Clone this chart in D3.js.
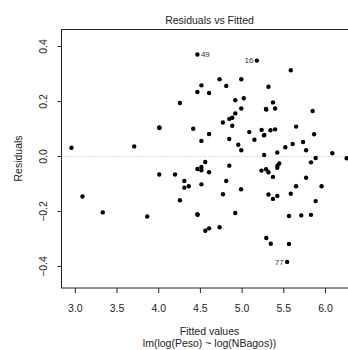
<!DOCTYPE html>
<html>
<head>
<meta charset="utf-8">
<title>Residuals vs Fitted</title>
<script src="https://cdn.jsdelivr.net/npm/d3@7"></script>
<style>
body { margin: 0; background: #fff; }
svg { display: block; font-family: "Liberation Sans", Arial, Helvetica, sans-serif; }
</style>
</head>
<body>
<script>
// fitted values and residuals
var fitted = [2.960, 3.092, 3.335, 3.712, 3.868, 4.012, 4.016, 4.012, 4.202, 4.260,
              4.260, 4.313, 4.313, 4.366, 4.420, 4.470, 4.470, 4.470, 4.469, 4.473,
              4.518, 4.518, 4.518, 4.518, 4.518, 4.564, 4.565, 4.610, 4.610, 4.610,
              4.610, 4.736, 4.736, 4.776, 4.776, 4.816, 4.816, 4.852, 4.852, 4.852,
              4.888, 4.888, 4.924, 4.924, 4.924, 4.960, 4.996, 4.996, 4.996, 4.994,
              5.026, 5.092, 5.154, 5.183, 5.240, 5.238, 5.268, 5.272, 5.270, 5.296,
              5.292, 5.294, 5.296, 5.322, 5.322, 5.322, 5.346, 5.350, 5.376, 5.376,
              5.376, 5.402, 5.402, 5.428, 5.430, 5.428, 5.428, 5.452, 5.524, 5.546,
              5.568, 5.568, 5.590, 5.590, 5.612, 5.654, 5.653, 5.716, 5.737, 5.774,
              5.773, 5.832, 5.832, 5.852, 5.870, 5.888, 5.888, 5.959, 6.088, 6.260];
var resid = [0.030, -0.147, -0.205, 0.035, -0.220, 0.104, 0.102, -0.067, -0.067, 0.193,
             -0.161, -0.091, -0.115, -0.110, 0.099, 0.369, 0.233, -0.047, -0.212, -0.214,
             0.257, 0.055, -0.040, -0.052, -0.103, -0.022, -0.272, 0.229, 0.080, -0.059,
             -0.263, 0.279, -0.259, 0.122, -0.139, 0.255, -0.091, 0.135, 0.062, -0.035,
             0.139, 0.110, 0.203, 0.155, -0.207, 0.041, 0.279, 0.173, 0.021, -0.121,
             0.210, 0.087, 0.059, 0.347, 0.095, -0.053, 0.075, 0.077, 0.004, 0.169,
             0.171, -0.048, -0.298, 0.252, -0.059, -0.140, 0.094, -0.319, 0.195, -0.076,
             -0.156, 0.173, 0.097, 0.013, -0.035, -0.043, -0.145, -0.027, 0.032, -0.385,
             -0.218, -0.320, 0.312, -0.137, 0.044, 0.107, -0.110, -0.216, 0.051, 0.021,
             -0.079, -0.023, -0.214, 0.164, 0.079, -0.007, -0.164, -0.110, 0.010, -0.008];
// labelled observations
var idIndex = [15, 53, 79];
var idNames = ["49", "16", "77"];

var xTicks = [3.0, 3.5, 4.0, 4.5, 5.0, 5.5, 6.0];
var yTicks = [-0.4, -0.2, 0.0, 0.2, 0.4];

var title = "Residuals vs Fitted";
var xLabel = "Fitted values";
var subLabel = "lm(log(Peso) ~ log(NBagos))";
var yLabel = "Residuals";

var W = 348, H = 350;
var pLeft = 61.5, pTop = 29, pBottom = 288, pRight = 357.5;
var fs = 10.5;

var svg = d3.select("body").append("svg")
    .attr("width", W)
    .attr("height", H);

svg.append("rect").attr("width", W).attr("height", H).attr("fill", "#fff");

var x = d3.scaleLinear().domain([2.84, 6.39]).range([pLeft, pRight]);
var y = d3.scaleLinear().domain([-0.48, 0.462]).range([pBottom, pTop]);
var fmt = d3.format(".1f");

// zero line
svg.append("line")
    .attr("x1", pLeft).attr("x2", pRight)
    .attr("y1", Math.round(y(0)) + 0.5).attr("y2", Math.round(y(0)) + 0.5)
    .attr("stroke", "#bebebe")
    .attr("stroke-dasharray", "1,2");

// points
svg.selectAll(".pt")
    .data(fitted)
    .enter().append("circle")
    .attr("class", "pt")
    .attr("cx", function(d) { return x(d); })
    .attr("cy", function(d, i) { return y(resid[i]); })
    .attr("r", 2.2)
    .attr("fill", "#000");

// id labels, R style: right of point if in left half, else left
var xmid = (x.domain()[0] + x.domain()[1]) / 2;
idIndex.forEach(function(k, j) {
    var onRight = fitted[k] < xmid;
    svg.append("text")
        .attr("x", x(fitted[k]) + (onRight ? 3.5 : -3.5))
        .attr("y", y(resid[k]))
        .attr("dy", "0.35em")
        .attr("text-anchor", onRight ? "start" : "end")
        .attr("font-size", 8)
        .attr("fill", "#333")
        .text(idNames[j]);
});

// frame
svg.append("rect")
    .attr("x", pLeft).attr("y", pTop + 0.5)
    .attr("width", pRight - pLeft).attr("height", pBottom - pTop - 0.5)
    .attr("fill", "none")
    .attr("stroke", "#222")
    .attr("stroke-width", 1);

// x axis
var xa = svg.append("g")
    .attr("transform", "translate(0," + pBottom + ")")
    .call(d3.axisBottom(x).tickValues(xTicks).tickSize(5).tickFormat(fmt));
xa.attr("font-family", null);
xa.select(".domain").remove();
xa.selectAll("line").attr("stroke", "#222");
xa.selectAll("text")
    .attr("y", 23.5).attr("dy", null)
    .attr("font-size", fs)
    .attr("fill", "#222");

// y axis, rotated labels
var ya = svg.append("g")
    .attr("transform", "translate(" + pLeft + ",0)")
    .call(d3.axisLeft(y).tickValues(yTicks).tickSize(4).tickFormat(fmt));
ya.attr("font-family", null);
ya.select(".domain").remove();
ya.selectAll("line").attr("stroke", "#222");
ya.selectAll("text")
    .attr("transform", "rotate(-90)")
    .attr("x", 0).attr("y", -14.7).attr("dy", null)
    .attr("text-anchor", "middle")
    .attr("font-size", fs)
    .attr("fill", "#222");

var cx = (pLeft + pRight) / 2;

svg.append("text")
    .attr("x", cx).attr("y", 24)
    .attr("text-anchor", "middle")
    .attr("font-size", fs)
    .attr("fill", "#222")
    .text(title);

svg.append("text")
    .attr("x", cx).attr("y", 335)
    .attr("text-anchor", "middle")
    .attr("font-size", fs)
    .attr("fill", "#222")
    .text(xLabel);

svg.append("text")
    .attr("x", cx).attr("y", 347)
    .attr("text-anchor", "middle")
    .attr("font-size", fs)
    .attr("fill", "#222")
    .text(subLabel);

svg.append("text")
    .attr("transform", "translate(21.5," + ((pTop + pBottom) / 2) + ") rotate(-90)")
    .attr("text-anchor", "middle")
    .attr("font-size", fs)
    .attr("fill", "#222")
    .text(yLabel);
</script>
</body>
</html>
